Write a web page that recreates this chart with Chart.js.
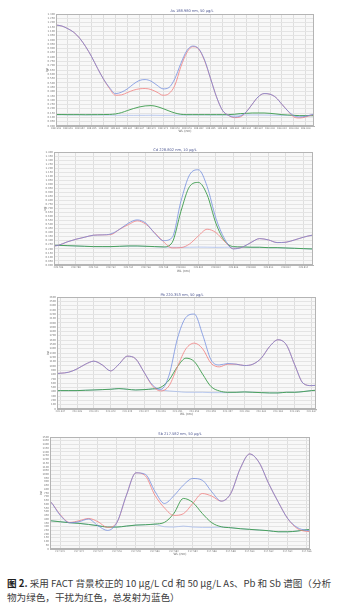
<!DOCTYPE html>
<html>
<head>
<meta charset="utf-8">
<script src="https://cdn.jsdelivr.net/npm/chart.js@4.4.1/dist/chart.umd.min.js"></script>
<style>
  html, body { margin: 0; padding: 0; background: #fff; }
  body { width: 361px; height: 614px; position: relative; overflow: hidden;
         font-family: "Noto Sans CJK SC", "Noto Sans", sans-serif; }
  canvas { position: absolute; left: 0; }
  #caption { position: absolute; left: 7px; top: 576px; font-size: 9.6px; line-height: 14.4px;
             color: #3c3c3c; white-space: nowrap; }
  #caption b { color: #1e1e1e; }
</style>
</head>
<body>
<canvas id="asChart" width="361" height="133" style="top:0px"></canvas>
<canvas id="cdChart" width="361" height="133" style="top:140px"></canvas>
<canvas id="pbChart" width="361" height="131" style="top:285px"></canvas>
<canvas id="sbChart" width="361" height="131" style="top:425px"></canvas>
<div id="caption"><b>图 2.</b> 采用 FACT 背景校正的 10 μg/L Cd 和 50 μg/L As、Pb 和 Sb 谱图（分析<br>物为绿色，干扰为红色，总发射为蓝色）</div>

<script>
// ---------------------------------------------------------------------------
// Spectra read off the figure. Each series is sampled every half x-tick,
// starting at the chart's xStart (in tick units).
// ---------------------------------------------------------------------------

// As 188.980 nm
const asXLabels = ['188.946', '188.949', '188.952', '188.955', '188.958', '188.961', '188.964', '188.967',
  '188.970', '188.973', '188.976', '188.979', '188.982', '188.985', '188.988', '188.991', '188.994',
  '188.997', '189.000', '189.003', '189.006', '189.009'];
const asTotal = [1.172, 1.160, 1.129, 1.087, 1.017, 0.920, 0.803, 0.668, 0.543, 0.446,
  0.376, 0.392, 0.431, 0.485, 0.528, 0.539, 0.520, 0.473, 0.431, 0.446,
  0.551, 0.726, 0.873, 0.928, 0.897, 0.765, 0.551, 0.338, 0.182, 0.124,
  0.105, 0.116, 0.163, 0.252, 0.338, 0.376, 0.369, 0.330, 0.252, 0.175,
  0.120, 0.105, 0.113, 0.132, 0.144];
const asInterference = [1.172, 1.160, 1.129, 1.087, 1.017, 0.920, 0.803, 0.668, 0.543, 0.435,
  0.357, 0.361, 0.388, 0.415, 0.431, 0.435, 0.423, 0.392, 0.357, 0.376,
  0.473, 0.687, 0.850, 0.920, 0.893, 0.757, 0.551, 0.338, 0.182, 0.124,
  0.097, 0.105, 0.163, 0.252, 0.338, 0.376, 0.369, 0.330, 0.252, 0.175,
  0.105, 0.093, 0.105, 0.128, 0.140];
const asAnalyte = [0.133, 0.133, 0.132, 0.132, 0.132, 0.131, 0.132, 0.132, 0.133, 0.134,
  0.140, 0.155, 0.179, 0.202, 0.221, 0.233, 0.237, 0.225, 0.202, 0.175,
  0.151, 0.136, 0.132, 0.132, 0.132, 0.132, 0.132, 0.132, 0.132, 0.132,
  0.136, 0.144, 0.147, 0.151, 0.151, 0.151, 0.147, 0.140, 0.132, 0.128,
  0.124, 0.120, 0.120, 0.120, 0.120];
const asBlank = [0.130, 0.130, 0.129, 0.129, 0.129, 0.128, 0.128, 0.128, 0.127, 0.126,
  0.125, 0.124, 0.124, 0.123, 0.124, 0.124, 0.125, 0.124, 0.123, 0.124,
  0.125, 0.126, 0.127, 0.128, 0.128, 0.128, 0.127, 0.127, 0.127, 0.127,
  0.126, 0.127, 0.128, 0.128, 0.128, 0.127, 0.126, 0.125, 0.124, 0.122,
  0.121, 0.120, 0.119, 0.119, 0.119];

// Cd 228.802 nm
const cdXLabels = ['228.786', '228.788', '228.790', '228.792', '228.794', '228.796', '228.798', '228.800',
  '228.802', '228.804', '228.806', '228.808', '228.810', '228.812', '228.814'];
const cdTotal = [0.228, 0.244, 0.286, 0.319, 0.344, 0.369, 0.373, 0.385, 0.443, 0.518,
  0.559, 0.518, 0.393, 0.302, 0.340, 0.787, 1.118, 1.180, 0.973, 0.580,
  0.323, 0.199, 0.220, 0.278, 0.327, 0.311, 0.278, 0.282, 0.311, 0.344,
  0.369, 0.377];
const cdInterference = [0.228, 0.244, 0.286, 0.319, 0.344, 0.369, 0.373, 0.377, 0.443, 0.500,
  0.547, 0.505, 0.400, 0.290, 0.212, 0.215, 0.261, 0.360, 0.443, 0.402,
  0.290, 0.203, 0.220, 0.278, 0.327, 0.311, 0.278, 0.282, 0.311, 0.344,
  0.369, 0.377];
const cdAnalyte = [0.244, 0.244, 0.240, 0.236, 0.232, 0.228, 0.228, 0.228, 0.232, 0.236,
  0.236, 0.232, 0.228, 0.224, 0.278, 0.663, 0.973, 1.023, 0.870, 0.518,
  0.298, 0.228, 0.224, 0.220, 0.220, 0.215, 0.215, 0.211, 0.207, 0.203,
  0.199, 0.199];
const cdBlank = [0.242, 0.242, 0.239, 0.235, 0.231, 0.228, 0.227, 0.227, 0.230, 0.234,
  0.234, 0.231, 0.227, 0.222, 0.220, 0.219, 0.220, 0.222, 0.221, 0.219,
  0.220, 0.222, 0.222, 0.219, 0.219, 0.214, 0.214, 0.210, 0.206, 0.202,
  0.198, 0.198];

// Pb 220.353 nm
const pbXLabels = ['220.337', '220.339', '220.341', '220.343', '220.345', '220.347', '220.349', '220.351',
  '220.353', '220.355', '220.357', '220.359', '220.361', '220.363', '220.365', '220.367'];
const pbTotal = [815, 830, 854, 931, 1040, 1110, 1024, 885, 1040, 1226,
  1164, 854, 559, 458, 792, 1645, 2127, 2204, 1723, 1141,
  1024, 1055, 1040, 1009, 1040, 1180, 1451, 1607, 1490, 1024,
  598, 543, 559];
const pbInterference = [815, 830, 854, 931, 1040, 1110, 1024, 885, 1040, 1226,
  1164, 854, 536, 419, 543, 986, 1397, 1529, 1397, 1063,
  978, 1040, 1040, 1009, 1040, 1180, 1451, 1607, 1490, 1024,
  598, 543, 559];
const pbAnalyte = [419, 427, 427, 427, 435, 442, 450, 458, 473, 458,
  442, 450, 466, 504, 675, 986, 1180, 1102, 807, 520,
  419, 388, 388, 396, 388, 380, 373, 373, 388, 388,
  404, 427, 442];
const pbBlank = [419, 427, 427, 427, 435, 442, 450, 458, 473, 458,
  442, 450, 466, 442, 419, 404, 388, 388, 388, 380,
  380, 380, 385, 396, 388, 380, 373, 373, 388, 388,
  404, 427, 442];

// Sb 217.582 nm
const sbXLabels = ['217.570', '217.572', '217.574', '217.576', '217.578', '217.580', '217.582', '217.584',
  '217.586', '217.588', '217.590', '217.592', '217.594', '217.596'];
const sbTotal = [699, 632, 454, 352, 365, 401, 312, 249, 356, 721,
  1020, 1000, 774, 610, 712, 855, 944, 921, 766, 641,
  743, 1077, 1273, 1157, 877, 632, 409, 289, 249, 240];
const sbInterference = [699, 632, 463, 356, 378, 409, 365, 289, 356, 721,
  1020, 979, 721, 552, 450, 472, 610, 743, 708, 641,
  743, 1077, 1273, 1157, 877, 632, 409, 276, 236, 231];
const sbAnalyte = [396, 378, 365, 352, 343, 329, 312, 294, 294, 307,
  320, 325, 334, 356, 476, 677, 623, 476, 352, 298,
  285, 272, 263, 254, 245, 231, 231, 240, 258, 267];
const sbBlank = [396, 378, 365, 352, 343, 329, 312, 294, 294, 307,
  320, 325, 329, 298, 294, 307, 294, 289, 289, 294,
  285, 272, 263, 254, 245, 231, 231, 240, 258, 267];

// ---------------------------------------------------------------------------

const COLORS = {
    total: 'rgba(105, 135, 222, 0.72)',
    interference: 'rgba(242, 130, 130, 0.82)',
    analyte: 'rgba(60, 155, 75, 0.9)',
    blank: 'rgba(160, 182, 235, 0.9)'
};

// plot background, frame and the small title above each spectrum
const spectrumFrame = {
    id: 'spectrumFrame',
    beforeDraw(chart) {
        const { ctx, chartArea: a } = chart;
        ctx.save();
        ctx.fillStyle = '#f8f8f8';
        ctx.fillRect(a.left, a.top, a.right - a.left, a.bottom - a.top);
        ctx.restore();
    },
    afterDraw(chart, args, opts) {
        const { ctx, chartArea: a } = chart;
        ctx.save();
        ctx.strokeStyle = '#b4b4b4';
        ctx.lineWidth = 1;
        ctx.strokeRect(Math.round(a.left) + 0.5, Math.round(a.top) + 0.5,
            Math.round(a.right - a.left) - 1, Math.round(a.bottom - a.top) - 1);
        ctx.font = '3.6px "DejaVu Sans"';
        ctx.fillStyle = '#4b5590';
        ctx.textAlign = 'center';
        ctx.textBaseline = 'middle';
        ctx.fillText(opts.text, opts.x, opts.y);
        ctx.restore();
    }
};

function toPoints(values, xStart) {
    return values.map((v, i) => ({ x: xStart + i * 0.5, y: v }));
}

function line(label, values, xStart, color, width) {
    return {
        label: label,
        data: toPoints(values, xStart),
        borderColor: color,
        borderWidth: width,
        pointRadius: 0,
        fill: false,
        cubicInterpolationMode: 'monotone'
    };
}

function renderSpectrum(cfg) {
    const canvas = document.getElementById(cfg.id);
    const top = parseFloat(canvas.style.top);
    const area = cfg.area;

    return new Chart(canvas.getContext('2d'), {
        type: 'line',
        data: {
            datasets: [
                line('总发射', cfg.total, cfg.xStart, COLORS.total, 1),
                line('干扰', cfg.interference, cfg.xStart, COLORS.interference, 1),
                line('分析物', cfg.analyte, cfg.xStart, COLORS.analyte, 1),
                line('空白', cfg.blank, cfg.xStart, COLORS.blank, 0.8)
            ]
        },
        options: {
            responsive: false,
            animation: false,
            events: [],
            layout: {
                autoPadding: false,
                padding: { left: area.left - 11, right: 361 - area.right, top: area.top - top, bottom: 0 }
            },
            plugins: {
                legend: { display: false },
                tooltip: { enabled: false },
                spectrumFrame: { text: cfg.title, x: cfg.titleX, y: cfg.titleY - top }
            },
            scales: {
                x: {
                    type: 'linear',
                    min: cfg.xMin,
                    max: cfg.xMax,
                    afterFit(scale) { scale.height = canvas.height - (area.bottom - top); },
                    grid: { color: '#dedede', drawTicks: false },
                    border: { color: '#b4b4b4' },
                    ticks: {
                        stepSize: 1,
                        includeBounds: false,
                        autoSkip: false,
                        maxRotation: 0,
                        padding: 1,
                        color: '#777',
                        font: { size: 2.4, family: 'DejaVu Sans' },
                        callback: (v) => cfg.xLabels[Math.round(v)] ?? ''
                    },
                    title: {
                        display: true,
                        text: 'WL (nm)',
                        color: '#555',
                        padding: 0,
                        font: { size: 3, family: 'DejaVu Sans' }
                    }
                },
                y: {
                    min: 0,
                    max: cfg.yMax,
                    afterFit(scale) { scale.width = 11; },
                    grid: { color: '#e4e4e4', drawTicks: false },
                    border: { color: '#b4b4b4' },
                    ticks: {
                        stepSize: cfg.yStep,
                        autoSkip: false,
                        padding: 1,
                        color: '#777',
                        font: { size: 2.6, family: 'DejaVu Sans' },
                        callback: (v) => v.toFixed(cfg.decimals)
                    },
                    title: {
                        display: true,
                        text: 'Int',
                        color: '#555',
                        padding: 0,
                        font: { size: 3, family: 'DejaVu Sans' }
                    }
                }
            }
        },
        plugins: [spectrumFrame]
    });
}

renderSpectrum({
    id: 'asChart', title: 'As 188.980 nm, 50 μg/L', titleX: 192, titleY: 11,
    area: { left: 56, right: 314, top: 14, bottom: 126 },
    xLabels: asXLabels, xStart: 0, xMin: 0, xMax: 21.7,
    yMax: 1.3, yStep: 0.05, decimals: 3,
    total: asTotal, interference: asInterference, analyte: asAnalyte, blank: asBlank
});

renderSpectrum({
    id: 'cdChart', title: 'Cd 228.802 nm, 10 μg/L', titleX: 175, titleY: 149.8,
    area: { left: 54, right: 313, top: 152, bottom: 265 },
    xLabels: cdXLabels, xStart: -0.5, xMin: -0.25, xMax: 14.55,
    yMax: 1.4, yStep: 0.05, decimals: 3,
    total: cdTotal, interference: cdInterference, analyte: cdAnalyte, blank: cdBlank
});

renderSpectrum({
    id: 'pbChart', title: 'Pb 220.353 nm, 50 μg/L', titleX: 182, titleY: 294.7,
    area: { left: 57, right: 316, top: 297, bottom: 409 },
    xLabels: pbXLabels, xStart: -0.5, xMin: -0.2, xMax: 15.27,
    yMax: 2600, yStep: 100, decimals: 0,
    total: pbTotal, interference: pbInterference, analyte: pbAnalyte, blank: pbBlank
});

renderSpectrum({
    id: 'sbChart', title: 'Sb 217.582 nm, 50 μg/L', titleX: 180, titleY: 434.3,
    area: { left: 50, right: 310, top: 437, bottom: 549 },
    xLabels: sbXLabels, xStart: -1, xMin: -0.53, xMax: 13.18,
    yMax: 1500, yStep: 50, decimals: 0,
    total: sbTotal, interference: sbInterference, analyte: sbAnalyte, blank: sbBlank
});
</script>
</body>
</html>
